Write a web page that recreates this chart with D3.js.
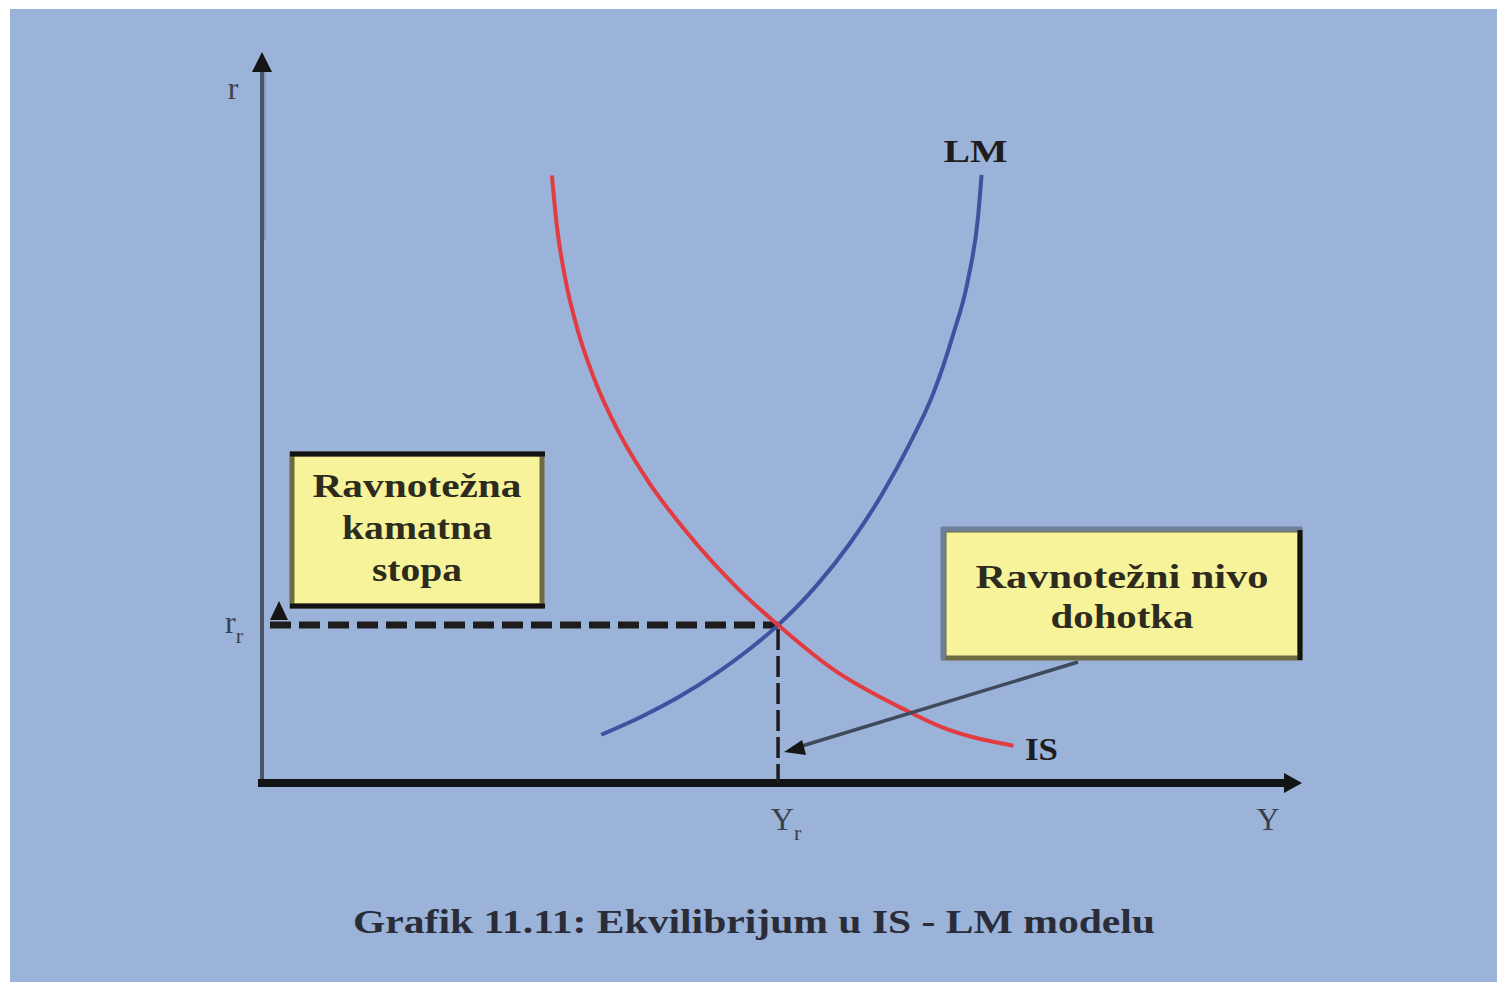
<!DOCTYPE html>
<html><head><meta charset="utf-8">
<script src="https://cdn.jsdelivr.net/npm/d3@7"></script>
<style>html,body{margin:0;padding:0;background:#fff;}svg{display:block;}</style>
</head><body>
<svg id="c" width="1497" height="982"></svg>
<script>
// ---- data (chart units: Y 0..100, r 0..100) ----
const isX = [28.2, 28.7, 29.5, 30.7, 32.4, 34.7, 37.7, 41.5, 46.3, 50.2, 55.5, 62.7, 66.0, 73.1];
const isY = [83.1, 76.0, 69.0, 62.0, 55.0, 48.0, 41.0, 34.0, 26.6, 21.6, 15.6, 9.9, 7.7, 5.1];
const lmX = [33.0, 36.8, 40.7, 44.2, 47.5, 50.2, 54.0, 57.2, 60.4, 63.0, 65.3, 67.2, 68.7, 69.65, 70.0];
const lmY = [6.6, 9.0, 11.9, 15.0, 18.4, 21.6, 27.1, 32.8, 39.7, 46.4, 53.3, 61.2, 69.0, 77.4, 83.2];
const equilibrium = [50.2, 21.6];
const curveNames = ["IS", "LM"];
const boxLeftLines = ["Ravnotežna", "kamatna", "stopa"];
const boxRightLines = ["Ravnotežni nivo", "dohotka"];
const caption = "Grafik 11.11: Ekvilibrijum u IS - LM modelu";

const svg = d3.select("#c");
const x = d3.scaleLinear().domain([0, 100]).range([262, 1290]);
const y = d3.scaleLinear().domain([0, 100]).range([783, 52]);

svg.append("rect").attr("x", 10).attr("y", 9).attr("width", 1487).attr("height", 973).attr("fill", "#9bb3d8");

const serif = "'Liberation Serif','DejaVu Serif',serif";
const ink = "#1e1c1c";

// Y axis (vertical)
svg.append("line").attr("x1", x(0) + 3).attr("x2", x(0) + 3).attr("y1", 70).attr("y2", 240)
  .attr("stroke", "#8b9cb8").attr("stroke-width", 2);
svg.append("line").attr("x1", x(0)).attr("x2", x(0)).attr("y1", y(0)).attr("y2", 68)
  .attr("stroke", "#4a5468").attr("stroke-width", 4);
svg.append("path").attr("d", `M${x(0)},52 L${x(0) - 10},72 L${x(0) + 10},72 Z`).attr("fill", "#151515");

// X axis (horizontal)
svg.append("line").attr("x1", x(0) - 4).attr("x2", 1290).attr("y1", y(0)).attr("y2", y(0))
  .attr("stroke", "#131416").attr("stroke-width", 8);
svg.append("path").attr("d", `M1302,${y(0)} L1284,${y(0) - 10} L1284,${y(0) + 10} Z`).attr("fill", "#131416");

// dashed guides
const ex = x(equilibrium[0]), ey = y(equilibrium[1]);
svg.append("line").attr("x1", x(0) + 8).attr("x2", ex).attr("y1", ey).attr("y2", ey)
  .attr("stroke", ink).attr("stroke-width", 7).attr("stroke-dasharray", "21 8");
svg.append("line").attr("x1", ex).attr("x2", ex).attr("y1", ey + 4).attr("y2", y(0))
  .attr("stroke", ink).attr("stroke-width", 3.5).attr("stroke-dasharray", "21 6");
// small arrowhead at left end of horizontal guide
svg.append("path").attr("d", `M${x(0) + 17},${ey - 24} L${x(0) + 8},${ey - 5} L${x(0) + 26},${ey - 5} Z`).attr("fill", "#151515");

// curves
const line = d3.line().x(d => x(d[0])).y(d => y(d[1])).curve(d3.curveMonotoneX);
const isPts = isX.map((v, i) => [v, isY[i]]);
const lmPts = lmX.map((v, i) => [v, lmY[i]]);
svg.append("path").attr("d", line(lmPts)).attr("fill", "none").attr("stroke", "#3f51a0").attr("stroke-width", 4);
svg.append("path").attr("d", line(isPts)).attr("fill", "none").attr("stroke", "#e23b40").attr("stroke-width", 4);

// curve labels
const lmEnd = lmPts[lmPts.length - 1], isEnd = isPts[isPts.length - 1];
svg.append("text").attr("x", x(lmEnd[0]) - 6).attr("y", y(lmEnd[1]) - 13).attr("text-anchor", "middle")
  .attr("font-family", serif).attr("font-weight", "bold").attr("font-size", 32).attr("fill", ink)
  .attr("textLength", 64).attr("lengthAdjust", "spacingAndGlyphs").text(curveNames[1]);
svg.append("text").attr("x", x(isEnd[0]) + 28).attr("y", y(isEnd[1]) + 14).attr("text-anchor", "middle")
  .attr("font-family", serif).attr("font-weight", "bold").attr("font-size", 32).attr("fill", ink)
  .attr("textLength", 33).attr("lengthAdjust", "spacingAndGlyphs").text(curveNames[0]);

// axis labels
function label(tx, ty, main, sub) {
  const t = svg.append("text").attr("x", tx).attr("y", ty).attr("text-anchor", "middle")
    .attr("font-family", serif).attr("font-size", 32).attr("fill", "#3a3f4c");
  t.append("tspan").text(main);
  if (sub) t.append("tspan").attr("font-size", 22).attr("dy", 10).text(sub);
}
label(233, 99, "r");
label(1268, 830, "Y");
label(786, 830, "Y", "r");
label(234, 633, "r", "r");

// annotation boxes
function box(bx, by, bw, bh, lines, widths, lineY) {
  const g = svg.append("g");
  g.append("rect").attr("x", bx).attr("y", by).attr("width", bw).attr("height", bh)
    .attr("fill", "#f7f39b").attr("stroke", "#6f6b42").attr("stroke-width", 5);
  lines.forEach((s, i) => {
    g.append("text").attr("x", bx + bw / 2).attr("y", lineY[i]).attr("text-anchor", "middle")
      .attr("font-family", serif).attr("font-weight", "bold").attr("font-size", 33).attr("fill", "#2d2b1e")
      .attr("textLength", widths[i]).attr("lengthAdjust", "spacingAndGlyphs").text(s);
  });
  return g;
}
const b1 = box(292, 454, 250, 152, boxLeftLines, [209, 150, 90], [497, 539, 581]);
b1.append("line").attr("x1", 290).attr("x2", 545).attr("y1", 454).attr("y2", 454).attr("stroke", "#121212").attr("stroke-width", 5);
b1.append("line").attr("x1", 290).attr("x2", 545).attr("y1", 606).attr("y2", 606).attr("stroke", "#121212").attr("stroke-width", 5);
const b2 = box(944, 530, 356, 128, boxRightLines, [293, 143], [588, 628]);
b2.append("line").attr("x1", 941).attr("x2", 1302).attr("y1", 529).attr("y2", 529).attr("stroke", "#6f7f99").attr("stroke-width", 5);
b2.append("line").attr("x1", 943).attr("x2", 943).attr("y1", 527).attr("y2", 660).attr("stroke", "#6f7f99").attr("stroke-width", 5);
b2.append("line").attr("x1", 1300).attr("x2", 1300).attr("y1", 530).attr("y2", 660).attr("stroke", "#121212").attr("stroke-width", 5);

// pointer arrow from box to Y_r
svg.append("line").attr("x1", 1078).attr("y1", 662).attr("x2", ex + 14).attr("y2", 749)
  .attr("stroke", "#3f4a5c").attr("stroke-width", 3.5);
svg.append("path").attr("d", `M${ex + 6},752 L${ex + 24},740 L${ex + 28},755 Z`).attr("fill", "#151515");

// caption
svg.append("text").attr("x", 754).attr("y", 933).attr("text-anchor", "middle")
  .attr("font-family", serif).attr("font-weight", "bold").attr("font-size", 33).attr("fill", "#2a2d38")
  .attr("textLength", 802).attr("lengthAdjust", "spacingAndGlyphs").text(caption);
</script>
</body></html>
